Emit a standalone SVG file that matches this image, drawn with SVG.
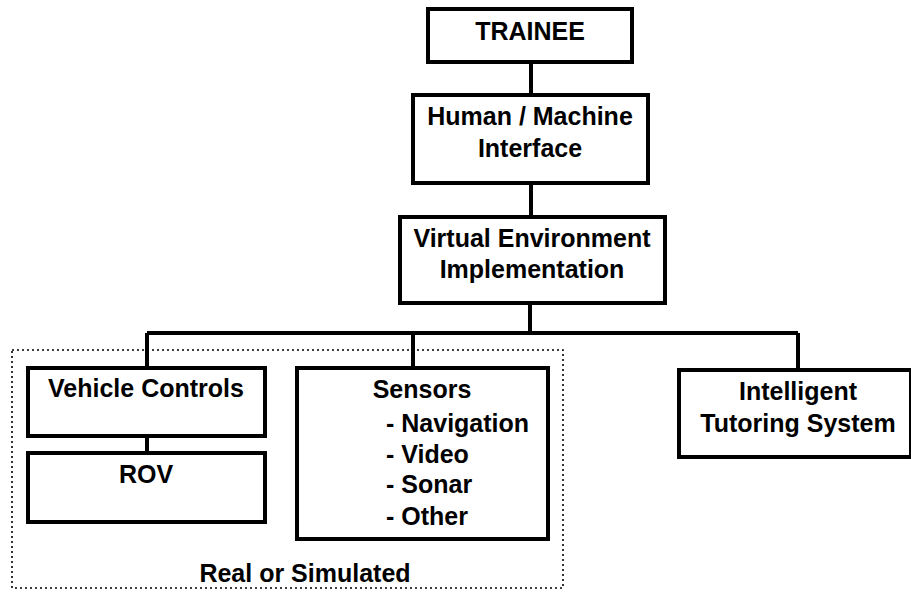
<svg xmlns="http://www.w3.org/2000/svg" width="911" height="593" viewBox="0 0 911 593">
<style>
.box{fill:#fff;stroke:#000;stroke-width:4}
.t{font-family:"Liberation Sans",Arial,sans-serif;font-weight:bold;font-size:25px;fill:#000}
.c{text-anchor:middle}
.ln{fill:none;stroke:#000;stroke-width:4}
.dot{fill:none;stroke:#000;stroke-width:1.6;stroke-dasharray:2 3}
</style>
<rect width="911" height="593" fill="#fff"/>
<g id="group-real">
<rect class="dot" x="12" y="350" width="551" height="238"/>
<text class="t c" x="305" y="582">Real or Simulated</text>
</g>
<g id="connectors">
<path class="ln" d="M531 62V95M531 183V217M530 303V333M147 333H798M147 333V368M413 333V368M798 333V370M147 436V453"/>
</g>
<g id="trainee">
<rect class="box" x="428" y="9" width="204" height="53"/>
<text class="t c" x="530" y="40">TRAINEE</text>
</g>
<g id="hmi">
<rect class="box" x="413" y="95" width="235" height="88"/>
<text class="t c" x="530" y="125">Human / Machine</text>
<text class="t c" x="530" y="157">Interface</text>
</g>
<g id="vei">
<rect class="box" x="400" y="217" width="265" height="86"/>
<text class="t c" x="532" y="247">Virtual Environment</text>
<text class="t c" x="532" y="278">Implementation</text>
</g>
<g id="vehicle-controls">
<rect class="box" x="28" y="368" width="237" height="68"/>
<text class="t c" x="146" y="397">Vehicle Controls</text>
</g>
<g id="rov">
<rect class="box" x="28" y="453" width="237" height="69"/>
<text class="t c" x="146" y="483">ROV</text>
</g>
<g id="sensors">
<rect class="box" x="297" y="368" width="251" height="171"/>
<text class="t c" x="422" y="398">Sensors</text>
<text class="t" x="386" y="432">- Navigation</text>
<text class="t" x="386" y="463">- Video</text>
<text class="t" x="386" y="493">- Sonar</text>
<text class="t" x="386" y="525">- Other</text>
</g>
<g id="its">
<rect class="box" x="679" y="370" width="232" height="87"/>
<text class="t c" x="798" y="400">Intelligent</text>
<text class="t c" x="798" y="432">Tutoring System</text>
</g>
</svg>
